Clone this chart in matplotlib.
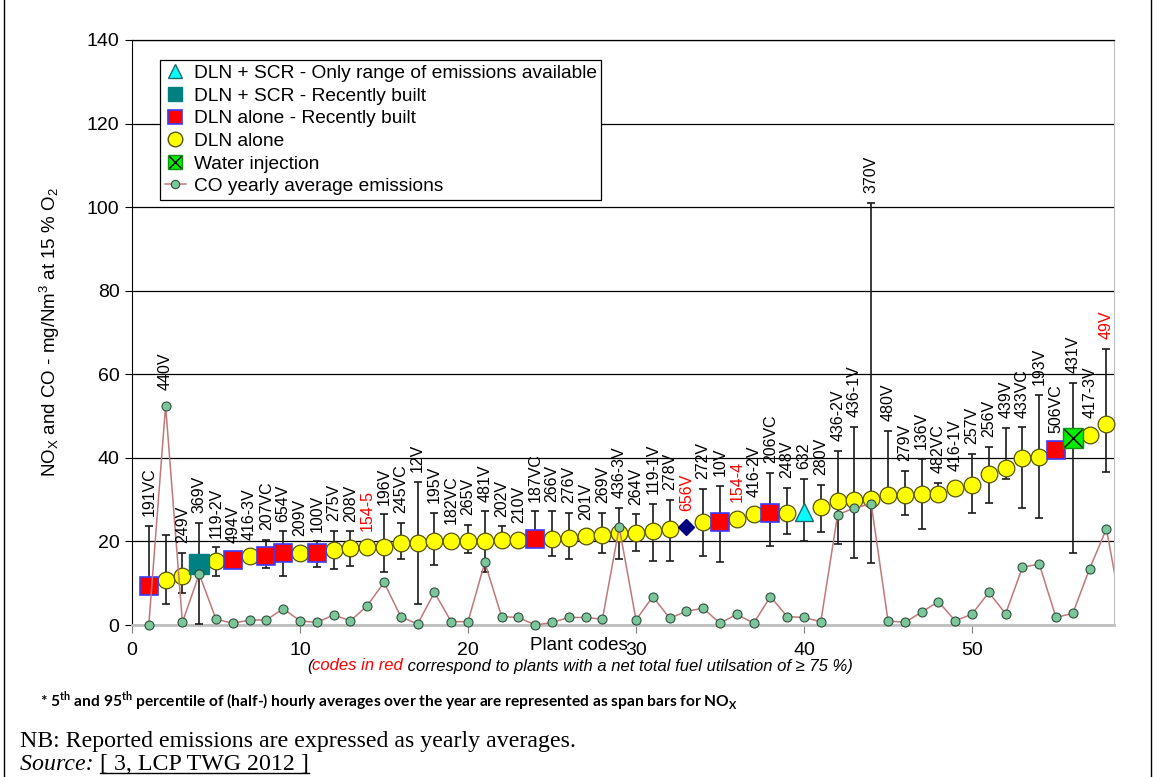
import numpy as np
import matplotlib.pyplot as plt
from matplotlib.lines import Line2D
from matplotlib.legend_handler import HandlerTuple

plt.rcParams['font.family'] = ['Liberation Sans', 'DejaVu Sans']
plt.rcParams['mathtext.fontset'] = 'custom'
plt.rcParams['mathtext.rm'] = 'Liberation Sans'
plt.rcParams['mathtext.it'] = 'Liberation Sans:italic'
plt.rcParams['mathtext.bf'] = 'Lato:bold'

# plant codes, technique and NOx yearly average (mg/Nm3)
codes = ['191VC', '440V', '249V', '369V', '119-2V', '494V', '416-3V', '207VC', '654V', '209V',
         '100V', '275V', '208V', '154-5', '196V', '245VC', '12V', '195V', '182VC', '265V',
         '481V', '202V', '210V', '187VC', '266V', '276V', '201V', '269V', '436-3V', '264V',
         '119-1V', '278V', '656V', '272V', '10V', '154-4', '416-2V', '206VC', '248V', '632',
         '280V', '436-2V', '436-1V', '370V', '480V', '279V', '136V', '482VC', '416-1V', '257V',
         '256V', '439V', '433VC', '193V', '506VC', '431V', '417-3V', '49V']
kinds = ['new', 'dln', 'dln', 'scr', 'dln', 'new', 'dln', 'new', 'new', 'dln',
         'new', 'dln', 'dln', 'dln', 'dln', 'dln', 'dln', 'dln', 'dln', 'dln',
         'dln', 'dln', 'dln', 'new', 'dln', 'dln', 'dln', 'dln', 'dln', 'dln',
         'dln', 'dln', 'other', 'dln', 'new', 'dln', 'dln', 'new', 'dln', 'range',
         'dln', 'dln', 'dln', 'dln', 'dln', 'dln', 'dln', 'dln', 'dln', 'dln',
         'dln', 'dln', 'dln', 'dln', 'new', 'water', 'dln', 'dln']
nox = [9.4, 10.8, 11.8, 14.6, 15.2, 15.6, 16.4, 16.4, 17.2, 17.2,
       17.2, 18.0, 18.4, 18.6, 18.6, 19.7, 19.7, 20.0, 20.1, 20.1,
       20.2, 20.4, 20.4, 20.6, 20.6, 20.8, 21.2, 21.6, 22.0, 22.1,
       22.4, 22.9, 23.4, 24.6, 24.6, 25.4, 26.6, 26.8, 26.8, 27.0,
       28.2, 29.6, 29.8, 30.2, 31.2, 31.2, 31.4, 31.4, 32.8, 33.4,
       36.1, 37.6, 40.0, 40.2, 42.0, 44.8, 45.5, 48.0]
nan = float('nan')
# 95th and 5th percentiles (span bars)
p95 = [23.8, 21.6, 17.3, 24.4, 18.6, nan, nan, 20.4, 22.4, nan,
       20.0, 22.6, 22.4, nan, 26.5, 24.4, 34.2, 26.9, nan, 24.0,
       27.2, 23.6, nan, 27.2, 27.2, 26.9, nan, 26.9, 28.0, 26.5,
       29.0, 29.9, nan, 32.6, 33.3, nan, nan, 36.4, 32.9, 35.0,
       33.6, 41.6, 47.4, 101.0, 46.5, 36.9, 39.7, 34.0, nan, 40.9,
       42.7, 47.1, 47.3, 55.1, nan, 58.0, nan, 66.1]
p5 = [9.4, 5.0, 7.7, 0.3, 11.7, nan, nan, 13.6, 11.8, nan,
      14.0, 13.3, 14.2, nan, 12.6, 15.8, 5.0, 14.4, nan, 17.3,
      12.8, 18.6, nan, 20.6, 16.6, 15.8, nan, 17.2, 15.8, 17.6,
      15.4, 15.2, nan, 16.6, 15.0, nan, nan, 18.8, 21.7, 20.0,
      22.3, 19.3, 16.0, 14.9, 31.2, 26.4, 23.0, 31.4, nan, 26.9,
      29.3, 35.0, 28.0, 25.7, nan, 17.3, nan, 36.7]
# CO yearly average (mg/Nm3)
co = [0.0, 52.5, 0.6, 12.2, 1.4, 0.4, 1.2, 1.2, 3.9, 1.0,
      0.6, 2.4, 1.0, 4.6, 10.2, 2.0, 0.2, 7.8, 0.8, 0.8,
      15.0, 2.0, 1.8, 0.0, 0.6, 1.8, 1.8, 1.4, 23.4, 1.2,
      6.8, 1.6, 3.3, 4.0, 0.4, 2.6, 0.4, 6.8, 2.0, 1.8,
      0.8, 26.4, 28.0, 29.0, 1.0, 0.6, 3.1, 5.6, 1.0, 2.6,
      7.8, 2.7, 13.8, 14.6, 1.8, 2.8, 13.5, 23.0, 1.0]
red_codes = ['154-5', '656V', '154-4', '49V']

W, H = 1157, 777
fig = plt.figure(figsize=(W / 100, H / 100), dpi=100)
ax = fig.add_axes([132 / W, 1 - 625 / H, (1114 - 132) / W, (625 - 40) / H])

x = np.arange(1, len(codes) + 1)
nox = np.array(nox)
up = np.array(p95)
lo = np.array(p5)
has = ~np.isnan(up)

ax.errorbar(x[has], nox[has], yerr=[nox[has] - lo[has], up[has] - nox[has]], fmt='none',
            ecolor='#1a1a1a', elinewidth=1.2, capsize=3, capthick=1.2, zorder=3)

styles = {
    'dln': dict(marker='o', ms=12, mfc='#ffff00', mec='#55550a', mew=0.9),
    'new': dict(marker='s', ms=12.5, mfc='#ff0000', mec='#3b3bff', mew=1.2),
    'scr': dict(marker='s', ms=14, mfc='#008080', mec='#008080', mew=1),
    'range': dict(marker='^', ms=13, mfc='#00ffff', mec='#206a6a', mew=1),
    'water': dict(marker='s', ms=14, mfc='#00ee00', mec='#159015', mew=1),
    'other': dict(marker='D', ms=8.5, mfc='#000080', mec='#000080', mew=1),
}
kinds_arr = np.array(kinds)
for k, st in styles.items():
    sel = kinds_arr == k
    ax.plot(x[sel], nox[sel], ls='none', zorder=4, clip_on=False, **st)
sel = kinds_arr == 'water'
ax.plot(x[sel], nox[sel], ls='none', marker='x', ms=13, mec='black', mew=1, zorder=4)

# CO line, last point lies beyond the axis and is clipped
xco = np.arange(1, len(co) + 1)
ax.plot(xco, co, color='#c07878', lw=1.1, zorder=5)
ax.plot(xco[:len(codes)], co[:len(codes)], ls='none', marker='o', ms=6.5, mfc='#7cc79a',
        mec='#2f4f3f', mew=0.8, zorder=5, clip_on=False)

for xi, code, m, u, c in zip(x, codes, nox, up, co):
    if not np.isnan(u):
        base, gap = u, 7
    else:
        base, gap = m, 12
    if c > base:
        base, gap = c, 11
    ax.annotate(code, (xi, base), xytext=(0, gap), textcoords='offset points', rotation=90,
                ha='center', va='bottom', fontsize=11.5,
                color='#ff0000' if code in red_codes else 'black', zorder=6)

ax.set_xlim(0, 58.45)
ax.set_ylim(0, 140)
ax.set_xticks(range(0, 51, 10))
ax.set_yticks(range(0, 141, 20))
ax.grid(axis='y', color='black', lw=0.9)
ax.set_axisbelow(True)
ax.spines['left'].set_color('black')
ax.spines['top'].set_color('black')
ax.spines['top'].set_linewidth(0.9)
ax.spines['right'].set_color('#bfbfbf')
ax.spines['bottom'].set_color('#bfbfbf')
ax.spines['bottom'].set_linewidth(2)
ax.tick_params(axis='x', direction='out', length=6, color='#808080', labelsize=14, pad=6)
ax.tick_params(axis='y', direction='out', length=5, color='black', labelsize=14, pad=4)
ax.set_ylabel(r'NO$_\mathrm{X}$ and CO - mg/Nm$^\mathrm{3}$ at 15 % O$_\mathrm{2}$', fontsize=13.5)
ax.yaxis.set_label_coords((62 - 132) / 982, 0.5)

# legend
h_range = Line2D([], [], ls='none', marker='^', ms=10, mfc='#00ffff', mec='#206a6a')
h_scr = Line2D([], [], ls='none', marker='s', ms=10, mfc='#008080', mec='#008080')
h_new = Line2D([], [], ls='none', marker='s', ms=10, mfc='#ff0000', mec='#3b3bff', mew=1.2)
h_dln = Line2D([], [], ls='none', marker='o', ms=10.5, mfc='#ffff00', mec='#55550a')
h_w1 = Line2D([], [], ls='none', marker='s', ms=10, mfc='#00ee00', mec='#159015')
h_w2 = Line2D([], [], ls='none', marker='x', ms=9, mec='black', mew=1)
h_co = Line2D([], [], color='#c07878', lw=1.1, marker='o', ms=6, mfc='#7cc79a', mec='#2f4f3f', mew=0.8)
leg = ax.legend([h_range, h_scr, h_new, h_dln, (h_w1, h_w2), h_co],
                ['DLN + SCR - Only range of emissions available', 'DLN + SCR - Recently built',
                 'DLN alone - Recently built', 'DLN alone', 'Water injection',
                 'CO yearly average emissions'],
                handler_map={tuple: HandlerTuple(ndivide=1)},
                loc='upper left', bbox_to_anchor=((160 - 132) / 982, (625 - 60) / 585),
                borderaxespad=0, fontsize=13.8, fancybox=False, framealpha=1,
                edgecolor='black', labelspacing=0.27, handlelength=1.1, handletextpad=0.4,
                borderpad=0.25)
leg.get_frame().set_linewidth(0.9)
leg.set_zorder(10)

fig.text(579 / W, 1 - 646 / H, 'Plant codes', ha='center', va='center', fontsize=13.5)

t1 = fig.text(307 / W, 1 - 666 / H, '(', style='italic', fontsize=12, va='center')
t2 = ax.annotate('codes in red', xy=(1, 0), xycoords=t1, va='bottom', style='italic',
                 fontsize=12, color='#ff0000')
ax.annotate(' correspond to plants with a net total fuel utilsation of \u2265 75 %)', xy=(1, 0),
            xycoords=t2, va='bottom', style='italic', fontsize=12)

fig.text(40 / W, 1 - 701 / H,
         r'* 5$^{\mathbf{th}}$ and 95$^{\mathbf{th}}$ percentile of (half-) hourly averages over '
         r'the year are represented as span bars for NO$_{\mathbf{X}}$',
         family=['Lato', 'DejaVu Sans'], fontweight='bold', fontsize=11.2, va='center')

fig.text(20 / W, 1 - 741 / H, 'NB: Reported emissions are expressed as yearly averages.',
         family=['Liberation Serif'], fontsize=17.2, va='center')
s1 = fig.text(20 / W, 1 - 765 / H, 'Source: ', family=['Liberation Serif'], style='italic',
              fontsize=17.2, va='center')
s2 = ax.annotate('[ 3, LCP TWG 2012 ]', xy=(1, 0), xycoords=s1, va='bottom',
                 family=['Liberation Serif'], fontsize=17.2)

# page frame
fig.add_artist(Line2D([3.5 / W, 3.5 / W], [0, 1], color='black', lw=1))
fig.add_artist(Line2D([1150.5 / W, 1150.5 / W], [0, 1], color='black', lw=1))

fig.canvas.draw()
bb = s2.get_window_extent()
fig.add_artist(Line2D([bb.x0 / W, bb.x1 / W], [(bb.y0 + 3) / H, (bb.y0 + 3) / H], color='black', lw=1))

fig.savefig('out.png', dpi=100)
